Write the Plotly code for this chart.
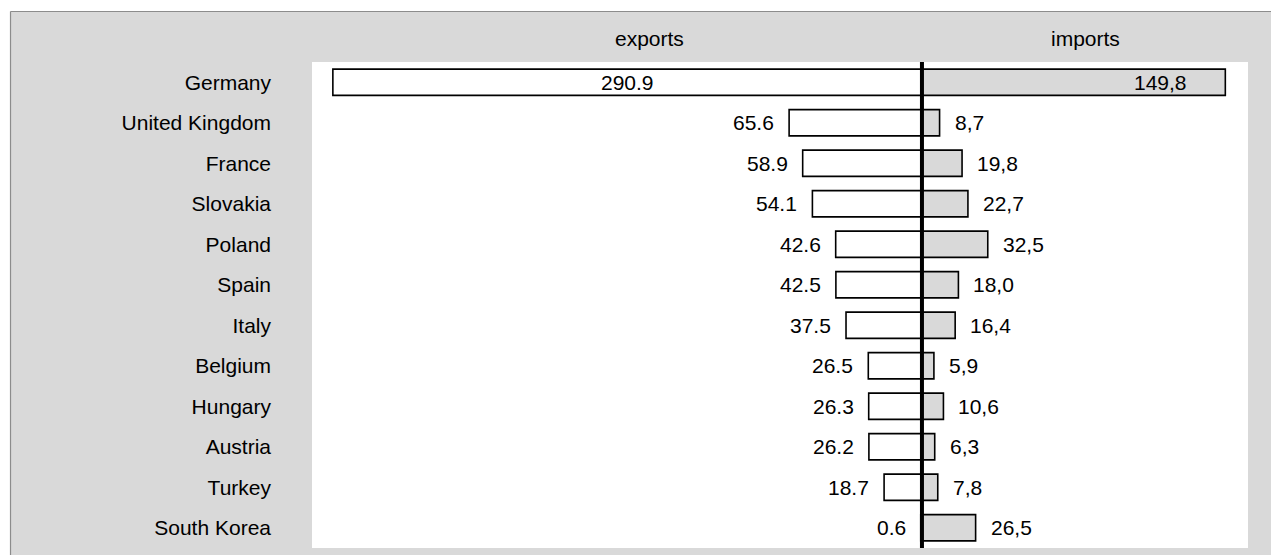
import plotly.graph_objects as go

countries = ["Germany", "United Kingdom", "France", "Slovakia", "Poland", "Spain",
             "Italy", "Belgium", "Hungary", "Austria", "Turkey", "South Korea"]
exports = [290.9, 65.6, 58.9, 54.1, 42.6, 42.5, 37.5, 26.5, 26.3, 26.2, 18.7, 0.6]
imports = [149.8, 8.7, 19.8, 22.7, 32.5, 18.0, 16.4, 5.9, 10.6, 6.3, 7.8, 26.5]
header_left = "exports"
header_right = "imports"

FONT = "Liberation Sans, Arial, sans-serif"
GREY = "#d9d9d9"
FS = 21

exp_labels = [f"{v:.1f}" for v in exports]
imp_labels = [f"{v:.1f}".replace(".", ",") for v in imports]

fig = go.Figure()
fig.add_trace(go.Bar(
    y=countries, x=[-v for v in exports], orientation="h",
    marker=dict(color="white", line=dict(color="black", width=1.6)),
    width=0.65, hoverinfo="skip", showlegend=False,
))
fig.add_trace(go.Bar(
    y=countries, x=imports, orientation="h",
    marker=dict(color=GREY, line=dict(color="black", width=1.6)),
    width=0.65, hoverinfo="skip", showlegend=False,
))

annotations = []
for i, (c, v, lab) in enumerate(zip(countries, exports, exp_labels)):
    if i == 0:
        annotations.append(dict(x=-v / 2, y=c, xref="x", yref="y", text=lab,
                                showarrow=False, xanchor="center", yanchor="middle"))
    else:
        annotations.append(dict(x=-v, y=c, xref="x", yref="y", text=lab,
                                showarrow=False, xanchor="right", yanchor="middle", xshift=-13))
for i, (c, v, lab) in enumerate(zip(countries, imports, imp_labels)):
    if i == 0:
        annotations.append(dict(x=v, y=c, xref="x", yref="y", text=lab,
                                showarrow=False, xanchor="right", yanchor="middle", xshift=-36))
    else:
        annotations.append(dict(x=v, y=c, xref="x", yref="y", text=lab,
                                showarrow=False, xanchor="left", yanchor="middle", xshift=13))

annotations.append(dict(x=0.361, y=1, xref="paper", yref="paper", text=header_left,
                        showarrow=False, xanchor="center", yanchor="middle", yshift=24))
annotations.append(dict(x=0.8264, y=1, xref="paper", yref="paper", text=header_right,
                        showarrow=False, xanchor="center", yanchor="middle", yshift=24))

shapes = [
    # white strips outside the grey panel
    dict(type="rect", xref="paper", yref="paper", x0=-0.4, x1=1.1, y0=1.1039, y1=1.2,
         fillcolor="white", line=dict(width=0), layer="below"),
    dict(type="rect", xref="paper", yref="paper", x0=-0.4, x1=-0.3221, y0=-0.1, y1=1.2,
         fillcolor="white", line=dict(width=0), layer="below"),
    # panel border
    dict(type="line", xref="paper", yref="paper", x0=-0.3221, x1=1.1, y0=1.1039, y1=1.1039,
         line=dict(color="#8c8c8c", width=1.2)),
    dict(type="line", xref="paper", yref="paper", x0=-0.3221, x1=-0.3221, y0=-0.1, y1=1.1039,
         line=dict(color="#8c8c8c", width=1.2)),
    # center axis line
    dict(type="line", xref="x", yref="paper", x0=0, x1=0, y0=0, y1=1,
         line=dict(color="black", width=4)),
]

fig.update_layout(
    width=1271, height=555,
    margin=dict(l=312, r=23, t=62, b=7),
    paper_bgcolor=GREY, plot_bgcolor="white",
    barmode="overlay",
    font=dict(family=FONT, size=FS, color="black"),
    annotations=annotations,
    shapes=shapes,
    xaxis=dict(range=[-301.2, 161.0], showgrid=False, zeroline=False,
               showticklabels=False, ticks="", fixedrange=True),
    yaxis=dict(range=[11.5, -0.5], autorange=False, showgrid=False, zeroline=False,
               ticks="", ticklabelstandoff=40, tickfont=dict(size=FS, family=FONT),
               fixedrange=True),
)

fig.write_html("out.html", config={"displayModeBar": False},
               post_script="document.body.style.margin='0';"
                           "document.documentElement.style.overflow='hidden';"
                           "document.body.style.overflow='hidden';"
                           "document.documentElement.style.background='#d9d9d9';"
                           "document.body.style.background='#d9d9d9';")
